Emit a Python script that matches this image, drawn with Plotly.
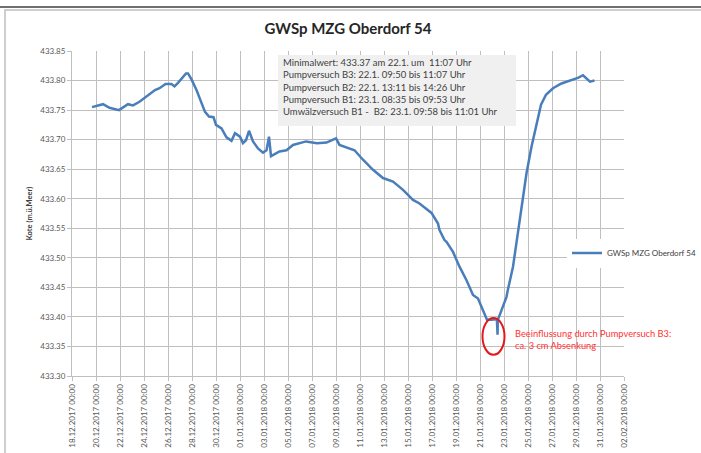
import plotly.graph_objects as go

# ---- data ----
times = [
    "2017-12-19 16:00", "2017-12-20 14:00", "2017-12-21 03:00", "2017-12-21 22:00",
    "2017-12-22 16:00", "2017-12-23 02:00", "2017-12-23 15:00", "2017-12-24 05:00",
    "2017-12-24 22:00", "2017-12-25 07:00", "2017-12-25 19:00", "2017-12-26 07:00",
    "2017-12-26 13:00", "2017-12-26 20:00", "2017-12-27 05:00", "2017-12-27 12:00",
    "2017-12-27 16:00", "2017-12-27 23:00", "2017-12-28 09:00", "2017-12-28 19:00",
    "2017-12-29 02:00", "2017-12-29 10:00", "2017-12-29 19:00", "2017-12-30 00:00",
    "2017-12-30 11:00", "2017-12-30 21:00", "2017-12-31 07:00", "2017-12-31 14:00",
    "2018-01-01 00:00", "2018-01-01 06:00", "2018-01-01 12:00", "2018-01-01 18:00",
    "2018-01-02 02:00", "2018-01-02 12:00", "2018-01-02 22:00", "2018-01-03 05:00",
    "2018-01-03 10:00", "2018-01-03 14:00", "2018-01-04 00:00", "2018-01-04 07:00",
    "2018-01-04 21:00", "2018-01-05 10:00", "2018-01-06 12:00", "2018-01-07 10:00",
    "2018-01-08 05:00", "2018-01-09 00:00", "2018-01-09 07:00", "2018-01-09 22:00",
    "2018-01-10 13:00", "2018-01-11 06:00", "2018-01-12 02:00", "2018-01-12 22:00",
    "2018-01-13 18:00", "2018-01-14 14:00", "2018-01-15 10:00", "2018-01-15 23:00",
    "2018-01-16 23:00", "2018-01-17 12:00", "2018-01-17 15:00", "2018-01-18 01:00",
    "2018-01-18 05:00", "2018-01-18 18:00", "2018-01-19 07:00", "2018-01-19 21:00",
    "2018-01-20 10:00", "2018-01-20 20:00", "2018-01-21 02:00", "2018-01-21 10:00",
    "2018-01-21 14:00", "2018-01-21 23:00", "2018-01-22 05:00", "2018-01-22 09:50",
    "2018-01-22 11:07", "2018-01-22 11:30", "2018-01-22 14:00", "2018-01-23 05:00",
    "2018-01-23 07:00", "2018-01-23 18:00", "2018-01-24 07:00", "2018-01-24 11:00",
    "2018-01-24 21:00", "2018-01-25 07:00", "2018-01-25 17:00", "2018-01-26 02:00",
    "2018-01-26 12:00", "2018-01-27 02:00", "2018-01-27 19:00", "2018-01-28 12:00",
    "2018-01-29 05:00", "2018-01-29 14:00", "2018-01-29 22:00", "2018-01-30 04:00",
    "2018-01-30 13:00",
]
level = [
    433.755, 433.760, 433.754, 433.750, 433.760, 433.758, 433.764, 433.773,
    433.784, 433.787, 433.794, 433.794, 433.790, 433.796, 433.806, 433.812,
    433.812, 433.802, 433.784, 433.764, 433.747, 433.739, 433.738, 433.725,
    433.719, 433.704, 433.698, 433.711, 433.705, 433.694, 433.699, 433.715,
    433.697, 433.685, 433.678, 433.682, 433.705, 433.672, 433.677, 433.680,
    433.682, 433.691, 433.697, 433.694, 433.695, 433.702, 433.691, 433.687,
    433.682, 433.666, 433.649, 433.635, 433.629, 433.615, 433.598, 433.592,
    433.576, 433.558, 433.547, 433.530, 433.527, 433.510, 433.485, 433.462,
    433.437, 433.431, 433.420, 433.403, 433.395, 433.395, 433.396, 433.395,
    433.370, 433.395, 433.400, 433.434, 433.443, 433.485, 433.558, 433.586,
    433.643, 433.688, 433.727, 433.759, 433.776, 433.787, 433.795, 433.800,
    433.805, 433.809, 433.802, 433.798, 433.800,
]
series_name = "GWSp MZG Oberdorf 54"
title_text = "GWSp MZG Oberdorf 54"
y_title = "Kote (m.ü.Meer)"
info_lines = [
    "Minimalwert: 433.37 am 22.1. um  11:07 Uhr",
    "Pumpversuch B3: 22.1. 09:50 bis 11:07 Uhr",
    "Pumpversuch B2: 22.1. 13:11 bis 14:26 Uhr",
    "Pumpversuch B1: 23.1. 08:35 bis 09:53 Uhr",
    "Umwälzversuch B1 -  B2: 23.1. 09:58 bis 11:01 Uhr",
]
note_lines = ["Beeinflussung durch Pumpversuch B3:", "ca. 3 cm Absenkung"]

# ---- layout helpers (pixel -> paper) ----
L, R, T, B = 72, 624, 51, 376
W, H = 701, 453
def px(x):
    return (x - L) / (R - L)
def py(y):
    return (B - y) / (B - T)

FONT = "Lato"
fig = go.Figure()
fig.add_trace(go.Scatter(
    x=times, y=level, mode="lines", name=series_name,
    line=dict(color="#4a7ebb", width=2.5),
))

fig.update_layout(
    width=W, height=H,
    margin=dict(l=L, r=W - R, t=T, b=H - B, autoexpand=False),
    paper_bgcolor="white", plot_bgcolor="white",
    font=dict(family=FONT, size=8, color="#595959"),
    title=dict(text="<b>" + title_text + "</b>", x=0.5, xref="paper",
               y=1 - 29 / H, yanchor="middle",
               font=dict(family=FONT, size=15, color="#262626")),
    showlegend=True,
    legend=dict(x=px(567), y=py(253), xanchor="left", yanchor="middle",
                bgcolor="white", font=dict(size=8, color="#404040"),
                itemwidth=30, borderwidth=0),
    xaxis=dict(
        type="date", automargin=False,
        range=["2017-12-18 00:00", "2018-02-02 00:00"],
        tick0="2017-12-18", dtick=2 * 86400000,
        tickformat="%d.%m.%Y %H:%M", tickangle=-90,
        showgrid=True, gridcolor="#bfbfbf", gridwidth=1,
        ticks="outside", ticklen=4, tickcolor="#bfbfbf",
        showline=True, linecolor="#bfbfbf", mirror=False,
        tickfont=dict(size=8, color="#595959"), zeroline=False,
    ),
    yaxis=dict(
        automargin=False,
        range=[433.30, 433.85], dtick=0.05, tickformat=".2f",
        showgrid=True, gridcolor="#bfbfbf", gridwidth=1,
        ticks="outside", ticklen=4, tickcolor="#bfbfbf",
        showline=True, linecolor="#bfbfbf",
        tickfont=dict(size=8, color="#595959"), zeroline=False,
        title=dict(text="<b>" + y_title + "</b>", standoff=6,
                   font=dict(size=7.5, color="#404040")),
    ),
)

shapes = [
    # outer frame
    dict(type="line", xref="paper", yref="paper", x0=px(0), x1=px(W), y0=py(7), y1=py(7),
         line=dict(color="#404040", width=1.5)),
    dict(type="rect", xref="paper", yref="paper", x0=px(5), x1=px(W + 10), y0=py(10), y1=py(H + 10),
         line=dict(color="#bfbfbf", width=1.5)),
    # info box background
    dict(type="rect", xref="paper", yref="paper", x0=px(278), x1=px(516), y0=py(55), y1=py(126),
         fillcolor="#f0f0f0", line=dict(width=0), layer="above"),
    # red ellipse
    dict(type="circle", xref="x", yref="y",
         x0="2018-01-21 05:00", x1="2018-01-23 01:00", y0=433.336, y1=433.398,
         line=dict(color="#e31a1c", width=2), layer="above"),
]
fig.update_layout(shapes=shapes)

fig.add_annotation(xref="paper", yref="paper", x=px(281), y=py(55), xanchor="left", yanchor="top",
                   text="<br>".join(info_lines), align="left", showarrow=False,
                   font=dict(size=9.5, color="#404040"))
fig.add_annotation(xref="paper", yref="paper", x=px(513), y=py(326), xanchor="left", yanchor="top",
                   text="<br>".join(note_lines), align="left", showarrow=False,
                   font=dict(size=9.3, color="#ff3333"))

fig.write_html("out.html", config={"displayModeBar": False},
               post_script="document.body.style.margin='0';")
